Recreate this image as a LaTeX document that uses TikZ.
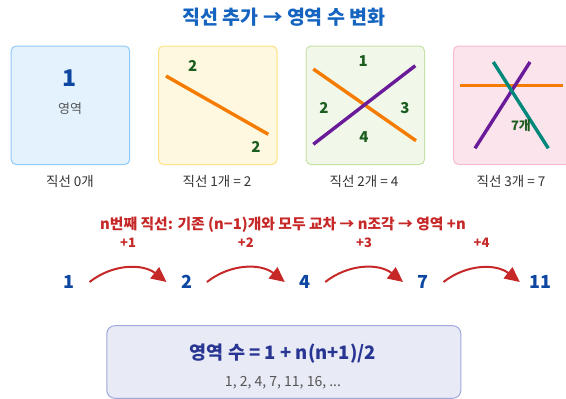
\documentclass[tikz,border=0pt]{standalone}
\usepackage{fontspec}
\setmainfont{Noto Sans CJK KR}
\usetikzlibrary{arrows.meta, positioning}
\definecolor{titleblue}{HTML}{1565C0}
\definecolor{numblue}{HTML}{0D47A1}
\definecolor{stepred}{HTML}{C62828}
\definecolor{indigo}{HTML}{283593}
\definecolor{txtgray}{HTML}{333333}
\definecolor{subgray}{HTML}{555555}
\definecolor{regiongreen}{HTML}{1B5E20}
\definecolor{lineorange}{HTML}{F57C00}
\definecolor{linepurple}{HTML}{6A1B9A}
\definecolor{lineteal}{HTML}{00897B}
\definecolor{panelBlue}{HTML}{E3F2FD}
\definecolor{panelBlueEdge}{HTML}{90CAF9}
\definecolor{panelCream}{HTML}{FFF8E1}
\definecolor{panelCreamEdge}{HTML}{FFE082}
\definecolor{panelGreen}{HTML}{F1F8E9}
\definecolor{panelGreenEdge}{HTML}{C5E1A5}
\definecolor{panelPink}{HTML}{FCE4EC}
\definecolor{panelPinkEdge}{HTML}{F8BBD0}
\definecolor{fmlFill}{HTML}{E8EAF6}
\definecolor{fmlEdge}{HTML}{9FA8DA}
\tikzset{
  panel/.style={rectangle, rounded corners=5pt, line width=1pt, anchor=north west,
                minimum width=118.5pt, minimum height=118.5pt},
  caption/.style={font=\fontsize{13.5}{15}\selectfont, text=txtgray},
  region/.style={font=\fontsize{15}{17}\selectfont\bfseries, text=regiongreen},
  cutline/.style={line width=3.4pt},
  seqnum/.style={font=\fontsize{18}{20}\selectfont\bfseries, text=numblue,
                 minimum width=40pt, inner sep=0pt},
  stepArrow/.style={-{Triangle[length=15pt, width=14pt]}, draw=stepred, line width=2pt},
  steplabel/.style={font=\fontsize{13}{15}\selectfont\bfseries, text=stepred},
  formulabox/.style={rectangle, rounded corners=8pt, draw=fmlEdge, line width=1pt,
                     fill=fmlFill, minimum width=354pt, minimum height=72.6pt},
}

\begin{document}
\begin{tikzpicture}[x=1pt, y=-1pt]
\useasboundingbox (0,0) rectangle (566,399);

\node[font=\fontsize{19.5}{22}\selectfont\bfseries, text=titleblue] (title) at (284,17)
  {직선 추가 → 영역 수 변화};

% --- panels ---
\node[panel, draw=panelBlueEdge, fill=panelBlue]   (p0) at (10.7,45.5) {};
\node[panel, draw=panelCreamEdge, fill=panelCream] (p1) at (158,45.5) {};
\node[panel, draw=panelGreenEdge, fill=panelGreen] (p2) at (305.5,45.5) {};
\node[panel, draw=panelPinkEdge, fill=panelPink]   (p3) at (453,45.5) {};

% 0 lines
\node[font=\fontsize{23}{25}\selectfont\bfseries, text=numblue] (one) at (70,78) {1};
\node[font=\fontsize{13}{15}\selectfont, text=subgray] (area) at (70,109) {영역};

% 1 line
\draw[cutline, lineorange] (166,76) -- (268.3,134.3);
\node[region] (r1a) at (192.7,66) {2};
\node[region] (r1b) at (256,147) {2};

% 2 lines
\draw[cutline, lineorange] (313.3,69) -- (416,140.7);
\draw[cutline, linepurple] (313.3,144.3) -- (415.3,65.7);
\node[region] (r2a) at (363.3,60.7) {1};
\node[region] (r2b) at (324,108.3) {2};
\node[region] (r2c) at (405,108.3) {3};
\node[region] (r2d) at (364,137.3) {4};

% 3 lines
\draw[cutline, lineorange] (460,85.7) -- (563,85.7);
\draw[cutline, linepurple] (530,62) -- (475,148.3);
\draw[cutline, lineteal] (493.3,62) -- (548.3,148.3);
\node[region, font=\fontsize{13}{15}\selectfont\bfseries] (r3) at (521,126) {7개};

% --- captions ---
\node[caption] (c0) at (70,181) {직선 0개};
\node[caption] (c1) at (217,181) {직선 1개 = 2};
\node[caption] (c2) at (364,181) {직선 2개 = 4};
\node[caption] (c3) at (511,181) {직선 3개 = 7};

% --- growth rule ---
\node[font=\fontsize{14.8}{17}\selectfont\bfseries, text=stepred] (rule) at (283,225)
  {n번째 직선: 기존 (n−1)개와 모두 교차 → n조각 → 영역 +n};

\node[seqnum] (s1)  at (69.3,282)  {1};
\node[seqnum] (s2)  at (186.7,282) {2};
\node[seqnum] (s4)  at (305,282)   {4};
\node[seqnum] (s7)  at (423.3,282) {7};
\node[seqnum] (s11) at (540,282)   {11};

\foreach \a/\b/\k in {s1/s2/1, s2/s4/2, s4/s7/3, s7/s11/4}
  \draw[stepArrow] (\a.east) to[bend left=38]
    node[steplabel, midway, yshift=25pt] {+\k} (\b.west);

% --- formula ---
\node[formulabox] (fbox) at (283.8,362) {};
\node[font=\fontsize{18.5}{21}\selectfont\bfseries, text=indigo] (fml) at (283,354)
  {영역 수 = 1 + n(n+1)/2};
\node[font=\fontsize{14}{16}\selectfont, text=subgray] (seq) at (283,383)
  {1, 2, 4, 7, 11, 16, ...};

\end{tikzpicture}
\end{document}
